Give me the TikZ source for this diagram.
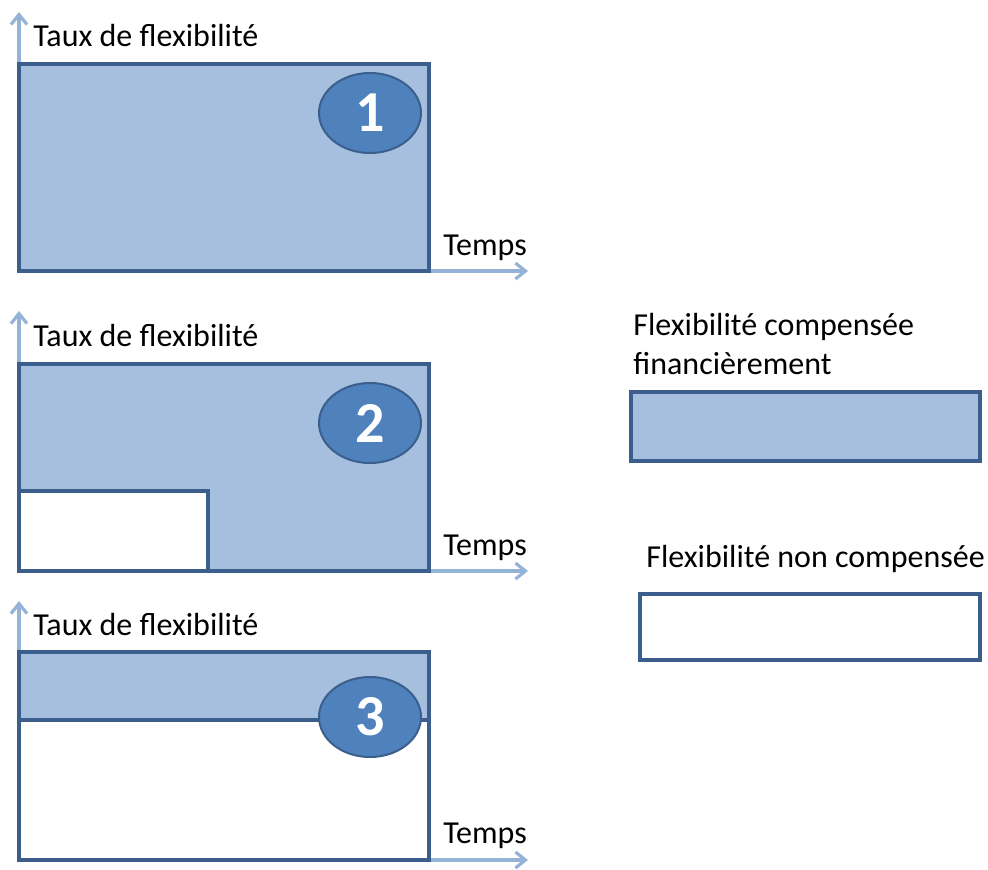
\documentclass[tikz,border=0pt]{standalone}
\usepackage{fontspec}
\setmainfont{Carlito}
\usetikzlibrary{shapes.geometric,arrows.meta}
\definecolor{zonebleu}{HTML}{A7BFDE}
\definecolor{cadrebleu}{HTML}{3B5E8C}
\definecolor{axebleu}{HTML}{95B3D7}
\definecolor{pastille}{HTML}{4F81BD}
\definecolor{pastillebord}{HTML}{3A5F8D}
\tikzset{
  zone/.style={fill=zonebleu},
  cadre/.style={draw=cadrebleu,line width=2.2pt},
  axe/.style={draw=axebleu,line width=1.6pt,-{Straight Barb[length=5pt,width=8pt]}},
  lbl/.style={anchor=base west,inner sep=0pt,font=\fontsize{16}{19}\selectfont},
  numero/.style={ellipse,draw=pastillebord,line width=1pt,fill=pastille,text=white,
    minimum width=51pt,minimum height=40pt,inner sep=0pt,
    font=\bfseries\fontsize{29}{29}\selectfont}
}

\begin{document}
\begin{tikzpicture}[x=0.5pt,y=-0.5pt]
  \useasboundingbox (0,0) rectangle (988,869);

  % panneau 1
  \coordinate (o1) at (19,271);
  \coordinate (y1) at (19,12);
  \coordinate (x1) at (528,271);
  \fill[zone] (19,64) rectangle (429,271);
  \draw[axe] (o1) -- (y1);
  \draw[axe] (429,271) -- (x1);
  \draw[cadre] (19,64) rectangle (429,271);
  \node[numero] (n1) at (370,113) {1};
  \node[lbl] (t1) at (33,46) {Taux de flexibilité};
  \node[lbl] (e1) at (443,255) {Temps};

  % panneau 2
  \coordinate (o2) at (19,571);
  \coordinate (y2) at (19,311);
  \coordinate (x2) at (528,571);
  \fill[zone] (19,364) rectangle (429,571);
  \fill[white] (19,491) rectangle (208,571);
  \draw[axe] (o2) -- (y2);
  \draw[axe] (429,571) -- (x2);
  \draw[cadre] (19,364) rectangle (429,571);
  \draw[cadre] (19,491) -- (208,491) -- (208,571);
  \node[numero] (n2) at (370,423) {2};
  \node[lbl] (t2) at (33,346) {Taux de flexibilité};
  \node[lbl] (e2) at (443,555) {Temps};

  % panneau 3
  \coordinate (o3) at (19,860);
  \coordinate (y3) at (19,601);
  \coordinate (x3) at (528,860);
  \fill[zone] (19,652) rectangle (429,720);
  \draw[axe] (o3) -- (y3);
  \draw[axe] (429,860) -- (x3);
  \draw[cadre] (19,652) rectangle (429,860);
  \draw[cadre] (19,720) -- (429,720);
  \node[numero] (n3) at (370,717) {3};
  \node[lbl] (t3) at (33,635) {Taux de flexibilité};
  \node[lbl] (e3) at (443,843) {Temps};

  % legende
  \node[lbl] (l1) at (633,335) {Flexibilité compensée};
  \node[lbl] (l2) at (633,374) {financièrement};
  \draw[cadre,zone] (631,392) rectangle (980,461);
  \node[lbl] (l3) at (646,567) {Flexibilité non compensée};
  \draw[cadre] (640,594) rectangle (980,660);
\end{tikzpicture}
\end{document}
